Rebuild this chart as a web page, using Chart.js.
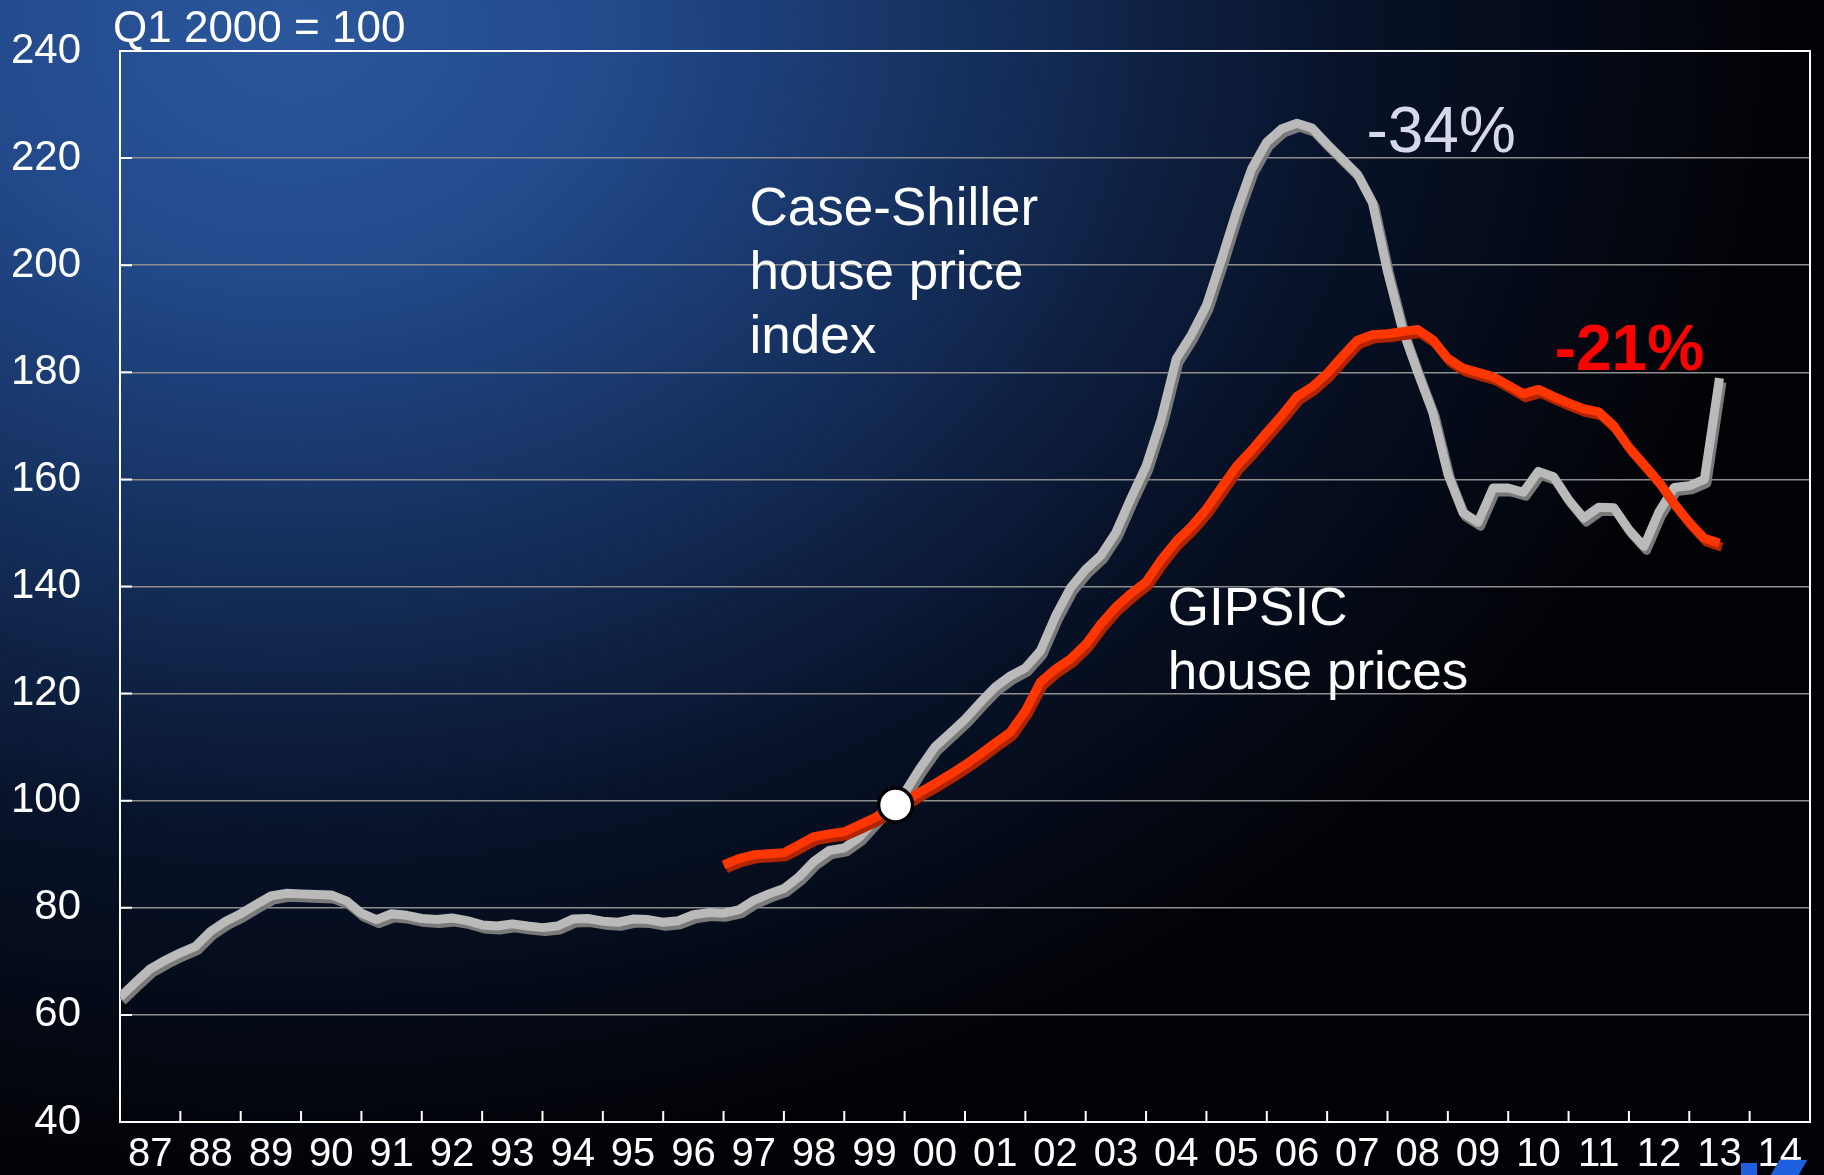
<!DOCTYPE html>
<html>
<head>
<meta charset="utf-8">
<script src="https://cdn.jsdelivr.net/npm/chart.js@4.4.1/dist/chart.umd.min.js"></script>
<style>
  html, body { margin: 0; padding: 0; width: 1824px; height: 1175px; overflow: hidden; }
  body {
    background: radial-gradient(ellipse 1500px 1150px at 290px 30px,
      #2b579c 0%, #22498a 22%, #15305e 45%, #08132a 70%, #010205 100%);
  }
  #wrap { position: absolute; left: 0; top: 0; width: 1824px; height: 1175px; }
  .logo { position: absolute; background: #1e5fe0; }
</style>
</head>
<body>
<div id="wrap"><canvas id="chart"></canvas></div>
<div class="logo" style="left:1741px;top:1163px;width:16px;height:12px;"></div>
<div class="logo" style="left:1775px;top:1160px;width:28px;height:15px;transform:skewX(-30deg);"></div>
<script>
// quarterly, Q1 2000 = 100
const csStart = 1987;      // first quarter: Q1 1987
const caseShiller = [
  63.3, 66.0, 68.6, 70.2,
  71.6, 72.8, 75.6, 77.5,
  78.9, 80.6, 82.2, 82.7,
  82.6, 82.5, 82.4, 81.3,
  79.0, 77.8, 78.9, 78.6,
  78.0, 77.8, 78.1, 77.6,
  76.8, 76.6, 77.0, 76.6,
  76.3, 76.6, 77.9, 78.0,
  77.5, 77.3, 77.9, 77.8,
  77.3, 77.6, 78.7, 79.1,
  79.0, 79.6, 81.4, 82.6,
  83.6, 85.8, 88.7, 90.7,
  91.2, 93.2, 96.3, 99.5,
  101.5, 106.0, 110.0, 112.6,
  115.2, 118.3, 121.2, 123.3,
  124.8, 128.0, 134.5, 139.8,
  143.2, 145.8, 150.1, 156.5,
  162.5, 171.2, 182.5, 187.0,
  192.5, 201.1, 210.1, 218.0,
  223.0, 225.5, 226.5, 225.6,
  222.6, 219.8, 217.0, 211.7,
  198.8, 187.9, 180.0, 172.5,
  161.0, 153.8, 152.0, 158.4,
  158.4, 157.6, 161.5, 160.5,
  156.2, 152.8, 154.8, 154.7,
  150.6, 147.5, 154.0, 158.5,
  158.8, 160.0, 178.9
];

const gipsicStart = 1997;  // first quarter: Q1 1997
const gipsic = [
  88.0, 89.2, 89.9, 90.1,
  90.3, 91.8, 93.3, 93.8,
  94.2, 95.5, 96.8, 98.3,
  99.8, 101.6, 103.2, 104.9,
  106.7, 108.7, 110.8, 112.8,
  116.8, 122.2, 124.6, 126.5,
  129.2, 133.0, 136.2, 138.7,
  140.9, 145.0, 148.5, 151.2,
  154.5, 158.5, 162.5, 165.5,
  168.8, 172.0, 175.5, 177.3,
  179.8, 183.0, 186.0, 187.0,
  187.2, 187.6, 188.0, 186.1,
  182.6, 180.8, 180.0, 179.2,
  177.6, 176.0, 176.8, 175.5,
  174.3, 173.2, 172.6, 170.0,
  166.0, 162.8, 159.5, 155.5,
  152.0, 149.0, 148.1
];

const baseMarker = [{ x: 1999.85, y: 99.2 }];

const yTicks = [40, 60, 80, 100, 120, 140, 160, 180, 200, 220, 240];
const yearLabels = ["87", "88", "89", "90", "91", "92", "93", "94", "95", "96", "97", "98", "99",
  "00", "01", "02", "03", "04", "05", "06", "07", "08", "09", "10", "11", "12", "13", "14"];
const firstYear = 1987, lastYear = 2015;

const FONT = "'Liberation Sans', Arial, sans-serif";

function quarterly(start, values) {
  return values.map((v, i) => ({ x: start + i / 4, y: v }));
}

function noPad(scale) {
  scale.paddingTop = 0;
  scale.paddingBottom = 0;
  scale.paddingLeft = 0;
  scale.paddingRight = 0;
}

// darker copy of each line drawn slightly down-right
const lineShadow = {
  id: "lineShadow",
  beforeDatasetDraw(chart, args) {
    const ds = chart.data.datasets[args.index];
    if (!ds.shadowColor) return;
    const ctx = chart.ctx;
    ctx.save();
    ctx.shadowColor = ds.shadowColor;
    ctx.shadowOffsetX = 2.5;
    ctx.shadowOffsetY = 4;
    ctx.shadowBlur = 0;
  },
  afterDatasetDraw(chart, args) {
    if (chart.data.datasets[args.index].shadowColor) chart.ctx.restore();
  }
};

// white frame + inner tick marks
const frame = {
  id: "frame",
  beforeDatasetsDraw(chart) {
    const { ctx, chartArea: a, scales } = chart;
    ctx.save();
    ctx.strokeStyle = "#ffffff";
    ctx.lineWidth = 2;
    ctx.beginPath();
    ctx.moveTo(a.left, a.top); ctx.lineTo(a.right, a.top); ctx.lineTo(a.right, a.bottom);
    ctx.stroke();
    ctx.beginPath();
    yTicks.forEach(t => {
      const y = scales.y.getPixelForValue(t);
      ctx.moveTo(a.left, y); ctx.lineTo(a.left + 12, y);
    });
    for (let yr = firstYear + 1; yr < lastYear; yr++) {
      const x = scales.x.getPixelForValue(yr);
      ctx.moveTo(x, a.bottom); ctx.lineTo(x, a.bottom - 11);
    }
    ctx.stroke();
    ctx.restore();
  }
};

const notes = {
  id: "notes",
  afterDraw(chart) {
    const { ctx, chartArea: a, scales } = chart;
    const X = v => scales.x.getPixelForValue(v);
    const Y = v => scales.y.getPixelForValue(v);
    ctx.save();
    ctx.textAlign = "left";
    ctx.textBaseline = "alphabetic";
    ctx.fillStyle = "#ffffff";
    ctx.font = "44px " + FONT;
    ctx.fillText("Q1 2000 = 100", a.left - 7, a.top - 9);

    ctx.font = "53px " + FONT;
    ["Case-Shiller", "house price", "index"].forEach((t, i) =>
      ctx.fillText(t, X(1997.43), Y(207.5) + i * 64));
    ["GIPSIC", "house prices"].forEach((t, i) =>
      ctx.fillText(t, X(2004.36), Y(132.8) + i * 64));

    ctx.font = "64px " + FONT;
    ctx.fillStyle = "#d8d8ec";
    ctx.fillText("-34%", X(2007.65), Y(221.1));

    ctx.font = "bold 64px " + FONT;
    ctx.fillStyle = "#ff0000";
    ctx.fillText("-21%", X(2010.77), Y(180.4));
    ctx.restore();
  }
};

const ctx = document.getElementById("chart").getContext("2d");

const chart = new Chart(ctx, {
  type: "line",
  data: {
    datasets: [
      {
        label: "Q1 2000",
        data: baseMarker,
        showLine: false,
        pointRadius: 17,
        pointBackgroundColor: "#ffffff",
        pointBorderColor: "#000000",
        pointBorderWidth: 3.5,
        order: 0
      },
      {
        label: "GIPSIC house prices",
        data: quarterly(gipsicStart, gipsic),
        borderColor: "#ff3600",
        shadowColor: "#b02400",
        borderWidth: 9,
        borderJoinStyle: "round",
        pointRadius: 0,
        tension: 0,
        order: 1
      },
      {
        label: "Case-Shiller house price index",
        data: quarterly(csStart, caseShiller),
        borderColor: "#bababa",
        shadowColor: "#7a7a7a",
        borderWidth: 9,
        borderJoinStyle: "round",
        pointRadius: 0,
        tension: 0,
        order: 2
      }
    ]
  },
  options: {
    responsive: true,
    maintainAspectRatio: false,
    animation: false,
    events: [],
    layout: { autoPadding: false, padding: { top: 51, right: 14, left: 0, bottom: 0 } },
    plugins: { legend: { display: false }, tooltip: { enabled: false } },
    scales: {
      x: {
        type: "linear",
        min: firstYear,
        max: lastYear,
        afterBuildTicks: axis => { axis.ticks = yearLabels.map((l, i) => ({ value: firstYear + 0.5 + i })); },
        afterFit: scale => { scale.height = 53; noPad(scale); },
        grid: { display: false, drawTicks: false },
        border: { display: true, color: "#ffffff", width: 2 },
        ticks: {
          autoSkip: false,
          maxRotation: 0,
          padding: 9,
          color: "#ffffff",
          font: { family: FONT, size: 40 },
          callback: (v, i) => yearLabels[i]
        }
      },
      y: {
        min: 40,
        max: 240,
        afterBuildTicks: axis => { axis.ticks = yTicks.map(v => ({ value: v })); },
        afterFit: scale => { scale.width = 120; noPad(scale); },
        grid: { color: "#8e8e8e", lineWidth: 1.5, drawTicks: false },
        border: { display: true, color: "#ffffff", width: 2 },
        ticks: {
          padding: 39,
          color: "#ffffff",
          font: { family: FONT, size: 42 }
        }
      }
    }
  },
  plugins: [lineShadow, frame, notes]
});
</script>
</body>
</html>
